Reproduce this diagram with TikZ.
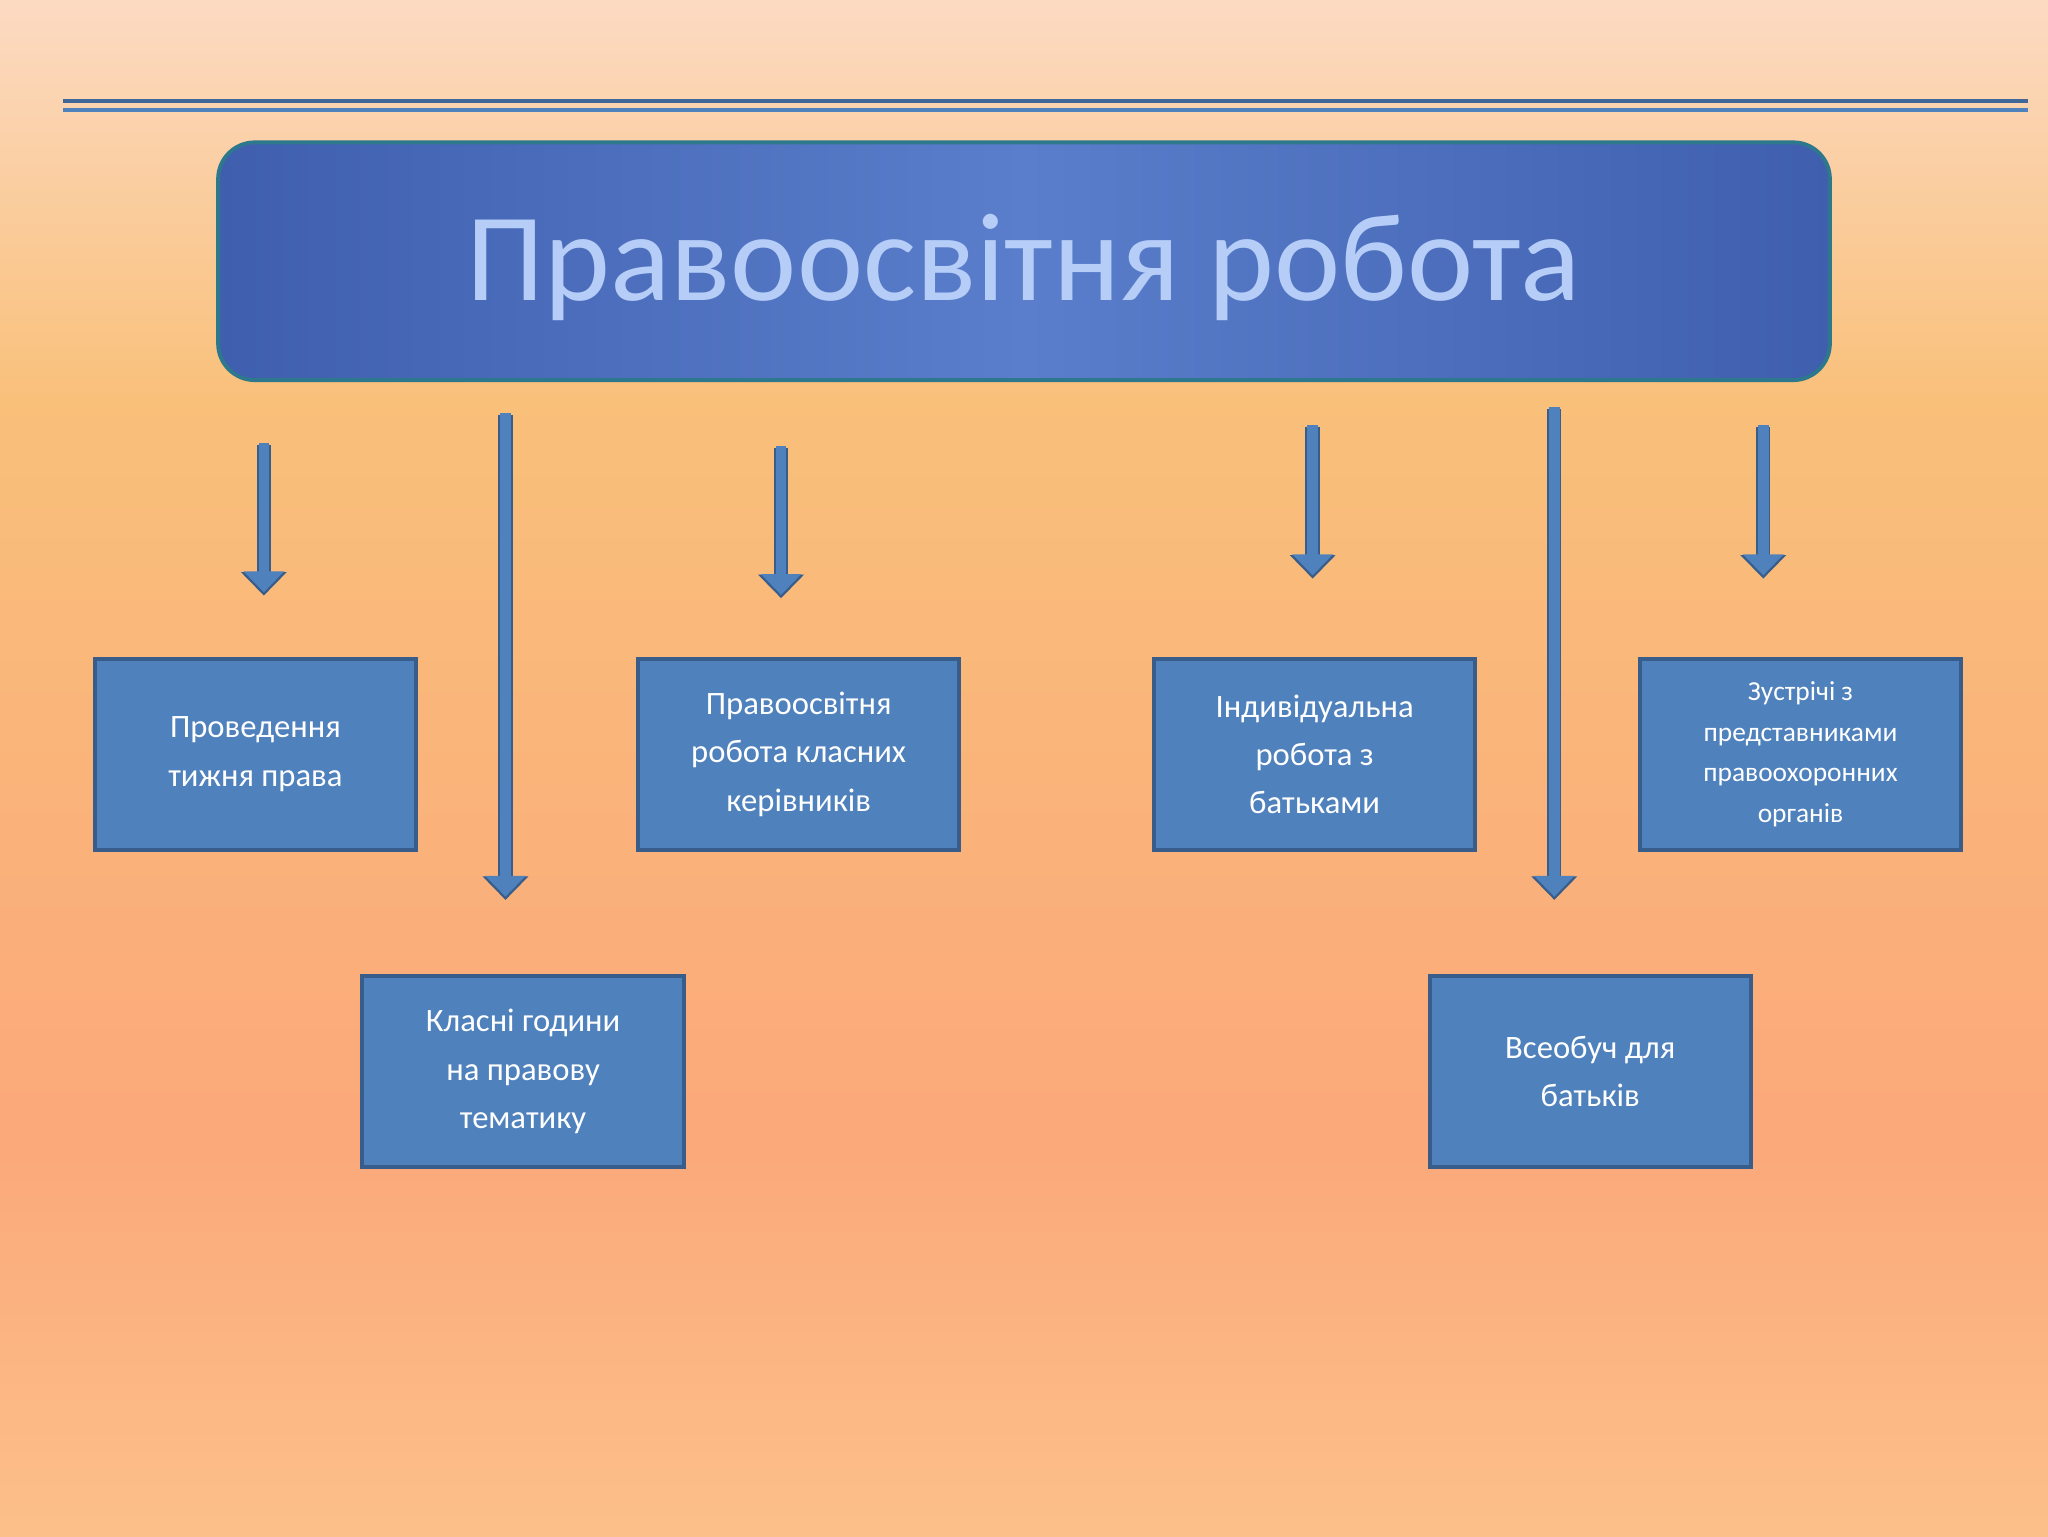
\documentclass[tikz,border=0pt]{standalone}
\usepackage{fontspec}
\setmainfont{Carlito}
\usetikzlibrary{arrows.meta}
\definecolor{bx}{HTML}{4F81BD}
\definecolor{bxd}{HTML}{385D8A}
\definecolor{g1}{HTML}{FDE3D5}
\definecolor{g2}{HTML}{FCC58E}
\definecolor{g3}{HTML}{FBA87A}
\definecolor{g4}{HTML}{F9C07A}
\definecolor{g5}{HTML}{FDE4DE}
\definecolor{g6}{HTML}{FBECC8}
\definecolor{t1}{HTML}{17286A}
\definecolor{t2}{HTML}{3F5FAE}
\definecolor{t3}{HTML}{5A7ECB}
\definecolor{tl}{HTML}{B5CDF7}
\definecolor{teal}{HTML}{2D788C}
\pgfdeclareverticalshading{bgsh}{100bp}{
 color(0bp)=(g1); color(22bp)=(g2); color(38bp)=(g3);
 color(62bp)=(g4); color(80bp)=(g5); color(100bp)=(g6)}
\pgfdeclarehorizontalshading{tsh}{100bp}{
 color(0bp)=(t1); color(25bp)=(t2); color(50bp)=(t3);
 color(75bp)=(t2); color(100bp)=(t1)}
\tikzset{
 box/.style={draw=bxd,line width=3pt,fill=bx,minimum width=246pt,minimum height=146pt,
   text=white,align=center,font=\fontsize{25}{37}\selectfont,anchor=north west,inner sep=0pt},
 arr/.style={draw=bx,line width=8pt,-{Triangle[width=30pt,length=16pt]}},
 arro/.style={draw=bxd,line width=11pt,-{Triangle[width=34pt,length=18pt]}}
}
\begin{document}
\begin{tikzpicture}[x=1pt,y=-1pt]
\shade[shading=bgsh] (0,0) rectangle (1568,1176);
\useasboundingbox (0,0) rectangle (1568,1176);
\draw[bx!80!black,line width=3pt] (48,77) -- (1553,77);
\draw[bx,line width=3pt] (48,84) -- (1553,84);
\shade[shading=tsh,draw=teal,line width=3pt,rounded corners=28pt] (167,109) rectangle (1401,291);
\node (title) at (784,205) {\fontsize{96}{100}\selectfont\color{tl}Правоосвітня робота};
\node[box] (b1) at (71,503) {Проведення\\тижня права};
\node[box] (b2) at (276,746) {Класні години\\на правову\\тематику};
\node[box] (b3) at (487,503) {Правоосвітня\\робота класних\\керівників};
\node[box] (b4) at (882,503) {Індивідуальна\\робота з\\батьками};
\node[box] (b5) at (1093,746) {Всеобуч для\\батьків};
\node[box,font=\fontsize{21}{31}\selectfont] (b6) at (1254,503) {Зустрічі з\\представниками\\правоохоронних\\органів};
\foreach \n/\x/\a/\b in {1/202/341/455,2/387/318/688,3/598/343/457,4/1005/327/442,5/1190/313/688,6/1350/327/442}{
 \coordinate (s\n) at (\x,\a); \coordinate (e\n) at (\x,\b);
 \draw[arro,shorten >=-1pt] (s\n) -- (e\n);
 \draw[arr,shorten >=1.5pt] ([yshift=1.5pt]s\n) -- (e\n);
}
\end{tikzpicture}
\end{document}
